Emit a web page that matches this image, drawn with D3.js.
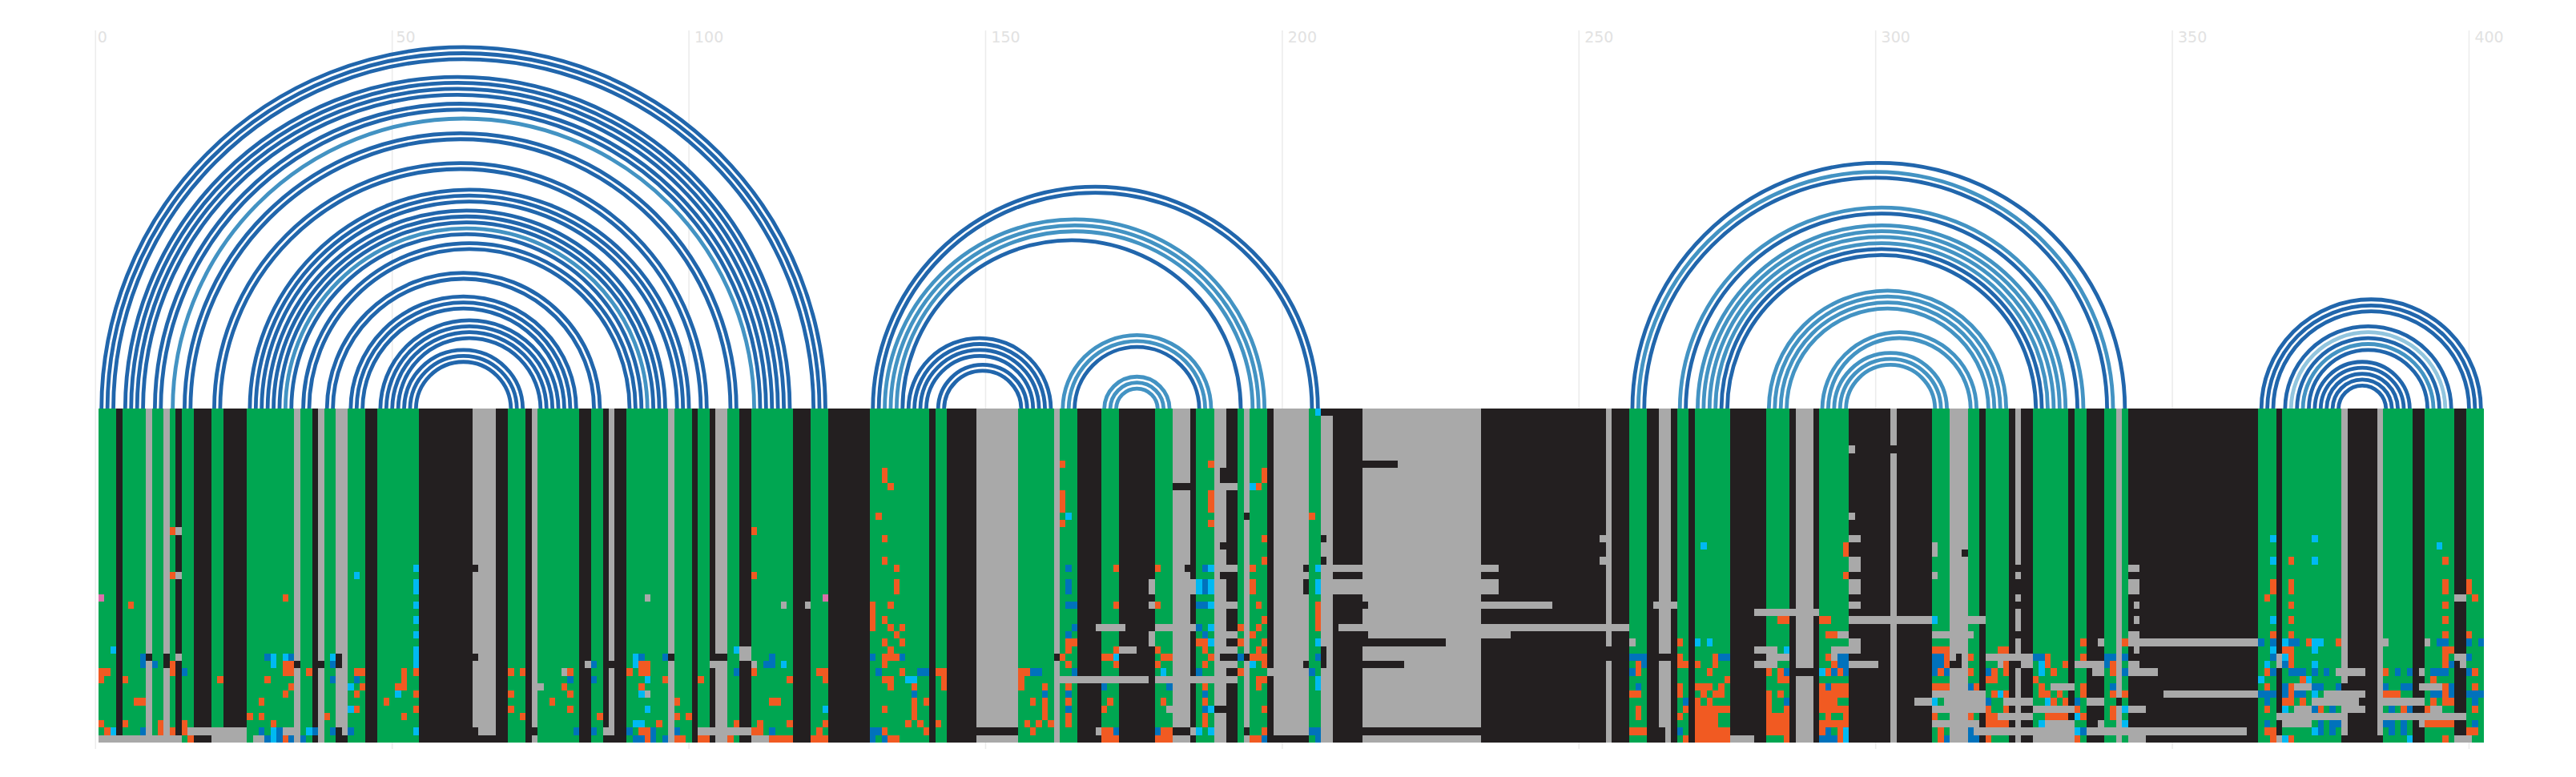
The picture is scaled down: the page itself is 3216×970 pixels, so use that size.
<!DOCTYPE html>
<html>
<head>
<meta charset="utf-8">
<style>html,body{margin:0;padding:0;background:#fff}svg{display:block}</style>
<script src="https://cdn.jsdelivr.net/npm/d3@7"></script>
</head>
<body>
<div id="chart"></div>
<script>
// tick labels of the alignment position axis
const tickValues = [0,50,100,150,200,250,300,350,400];

// consensus column runs: [last column of run, colour code]
const columnRuns = [[3,"G"],[4,"K"],[8,"G"],[9,"A"],[11,"G"],[12,"A"],[13,"G"],[14,"K"],[16,"G"],[19,"K"],[21,"G"],[25,"K"],[33,"G"],[34,"A"],[36,"G"],[37,"K"],[38,"A"],[40,"G"],[42,"A"],[45,"G"],[47,"K"],[54,"G"],[63,"K"],[67,"A"],[69,"K"],[72,"G"],[73,"K"],[74,"A"],[81,"G"],[83,"K"],[85,"G"],[86,"K"],[87,"A"],[89,"K"],[96,"G"],[97,"A"],[100,"G"],[101,"K"],[103,"G"],[104,"K"],[106,"A"],[108,"G"],[110,"K"],[117,"G"],[120,"K"],[123,"G"],[130,"K"],
[140,"G"],[141,"K"],[143,"G"],[148,"K"],[155,"A"],[161,"G"],[162,"A"],[165,"G"],[169,"K"],[172,"G"],[178,"K"],[181,"G"],[184,"A"],[185,"K"],[188,"G"],[190,"A"],[192,"K"],[193,"G"],[194,"A"],[197,"G"],[198,"K"],[204,"A"],[206,"G"],[208,"A"],[213,"K"],[233,"A"],[254,"K"],[255,"A"],[258,"K"],
[261,"G"],[263,"K"],[265,"A"],[266,"K"],[268,"G"],[269,"K"],[275,"G"],[281,"K"],[285,"G"],[286,"K"],[289,"A"],[290,"K"],[295,"G"],[302,"K"],[303,"A"],[309,"K"],[312,"G"],[315,"A"],[317,"G"],[318,"K"],[322,"G"],[323,"K"],[324,"A"],[326,"K"],[332,"G"],[333,"K"],[335,"G"],[338,"K"],[340,"G"],[341,"A"],[342,"G"],[364,"K"],[367,"G"],[368,"K"],[378,"G"],[379,"A"],[384,"K"],[385,"A"],[390,"G"],[392,"K"],[397,"G"],[399,"K"],[402,"G"]];

// per-sequence departures from the consensus: "column[-column]code"
const rowEdits = [
"206C 207-208K","","","","",
"296A 303K","",
"163O 188O 214-219K",
"133O 190K 197O",
"133O 190K 197O",
"134O 182-184K 189-192A 195C 196O",
"163O 188O","163O 188O","163O 188O",
"132O 164C 194K 205O 296A",
"163O 188O",
"13O 14A 111O",
"133O 197O 207K 254A 296-297A 367C 374C",
"190K 271C 295O 310A 395C",
"295O 310A 315K",
"133O 197O 207K 254A 296-297A 367C 370O 374C 396O",
"54C 64K 135O 164B 172O 179O 184K 187B 188C 189-192A 195O 204K 206C 207-236A 296-297A 324K 343-344A",
"13O 14A 44C 111O 190-192K 295O 310A",
"54C 135O 164B 178A 185A 186C 187B 188C 195O 204K 206C 207-236A 296-297A 324K 343-344A 367O 370O 396O 400O",
"54C 135O 164B 178A 185A 186C 187B 188C 195O 204K 206C 207-236A 296-297A 324K 343-344A 367O 370O 396O 400O",
"1P 32O 93A 123P 366O 398-399A 401O",
"6O 54C 116A 120A 131O 134O 164-165B 172O 178A 179O 186-187B 188C 189-192A 196O 206O 214K 234-245A 263-266A 296-297A 324K 344A 370O 396O",
"131O 206O 280-290A",
"54C 131O 133O 197O 206O 284-285O 291-292O 296-309A 310C 316-318A 344A 367C 370O 396O",
"131O 134O 136O 165B 169-173A 179-185A 186B 188C 193O 196O 206O 210-258A",
"54C 135O 164B 178A 187B 189-192A 195O 214K 234-238A 292-293O 294-295A 310-316A 324K 343-344A 367O 370O 396O 400O",
"133O 136O 164-165O 178A 186-187O 188C 193O 197O 206C 214-227K 259A 267O 270C 272C 296-297A 335O 338A 342O 343-364A 365B 367B 369C 370-371B 373O 374-375C 378O 386A 393A 395-396B 400B 402B",
"3C 54C 108C 109-110A 134O 164O 172O 173-175A 179O 187O 189-192A 196O 207K 255K 280-283A 285C 293-297A 310-312O 321-322O 344A 367C 369-370O 374C 396-397O",
"8B 9K 12K 14A 29B 30C 32C 33B 40C 41K 54C 64K 91C 92B 96B 97K 104-106K 109-110A 114B 131B 133-135O 136B 162K 163O 170-171O 172C 180-181O 188O 190-192K 193B 194K 195-197O 206B 207K 255K 259-261B 264-265K 267O 273O 274-275B 282-285A 292O 293A 294-295B 310-311B 312O 314K 316O 319-326A 327-328B 329O 335O 339-340B 342B 367B 368A 369C 370O 396O 398-399A 400B",
"8B 10B 12K 13O 30C 32-33O 34K 37-38K 40B 41K 54C 83A 84B 87K 91C 92-93O 104A 111A 113-114B 116C 133O 164O 172O 179O 187O 189-192A 195C 197O 204K 207K 214-220K 260O 261B 267-268O 270O 273O 280-283A 293O 294-295B 296-300A 310-311B 312O 313-314K 321A 322O 324K 325-326A 328C 329O 332O 334-338A 339B 340O 343-344A 366C 368A 369B 370O 374C 396O 397B 399A",
"1-2O 13O 15B 32-33O 36O 44-45O 52O 54O 70O 72O 79A 80O 90O 92-93O 108B 111O 122-123O 132B 136O 139-140B 142-143O 156-157O 158-159B 165B 180C 186B 193O 198A 205B 259B 260O 272O 282O 284O 285B 287-289K 291C 292O 293B 294O 295B 310B 311O 312B 316O 319B 320O 322O 328C 330O 337-338A 340O 342B 343-347A 366O 367B 370-372B 374B 376B 378-382A 386O 388B 390B 392A 394-396B 400B 401O",
"1O 5O 21O 29O 40B 44B 52O 80B 84B 93C 96O 102O 117O 123O 133-134O 137-138C 143O 156O 162-177A 179-192A 196-197O 206C 275O 284-285O 319-320O 327O 365C 372O 373C 394O",
"33O 43C 45O 51-52O 74-75A 79O 92O 134O 138O 143O 156O 160O 164O 170B 181B 187O 196O 206C 260B 267O 270-272O 274O 291O 292B 293-295O 310-312O 316B 317O 328O 330-333A 335O 340B 366O 369B 370O 371-373A 374-375B 378B 379K 386B 389-390B 392-395A 396O 397B 401O",
"32O 44O 51C 54O 70O 80O 92C 93A 138B 160B 164B 187B 259-260O 267O 271O 273-274O 282O 284O 291-295O 310-318A 320O 321C 322O 328-329O 331O 335O 340O 342O 349-364A 365-367B 369B 370O 371-372B 374C 376-382A 386-388O 394-395B 396O 397B 400-402B",
"7-8O 28O 49O 77O 98O 114-115O 138O 140O 158O 160O 164O 171O 180O 187O 268B 270O 272O 282O 285B 291-293O 307-309A 310C 312-318A 319B 322-326A 329C 330O 332O 334B 336-338A 341K 366B 369-370O 372O 374-381A 386-392A 394O 396-397O 401B",
"43C 44O 54O 70O 80O 93C 123C 133O 138O 160O 164B 170O 181A 187B 188C 189-190K 197O 260O 268O 270-275O 282O 285O 291-295O 310-318A 319O 322O 327-333A 334O 340O 342C 343-345A 366O 369C 371-373A 374B 375O 377B 379-382A 387B 389O 390B 393O 394-395A 401O",
"26O 28O 39O 52O 72O 85O 98O 100O 138O 160O 164O 187O 260O 267O 270-273O 282-285O 292O 295O 310O 316O 319-320O 321-326A 329-332O 334C 335O 340O 368-379A 385-399A",
"1O 5O 11O 15O 30O 91-92C 95O 108O 112O 117O 123O 137O 139O 142O 157O 159O 161O 164O 187O 270-273O 282-285O 291-295O 310-317A 319-322O 329-333A 338A 328C 342C 366B 369-373A 375B 377-378B 386-387B 389B 392A 393-397O 401B",
"2O 3C 8B 11O 13O 15O 16-25A 28B 30C 31B 32-33A 36C 37B 40B 41K 42A 43B 54C 64K 74K 81B 84B 86-87A 90B 92-93O 94B 98B 102-110A 111-112O 114B 122O 131-132B 133O 140O 149-155K 158O 169A 170-171O 172B 179B 180-181O 182-184K 185A 186C 188C 194K 197O 205-206B 214-233K 259-261O 264K 267B 270-275O 282-285O 291O 292B 294O 295C 311O 316B 317-333A 334C 335B 336-362A 366-367O 374C 375B 377B 387B 389B 400-401O",
"1-14A 16O 20-25A 27-28A 29B 30C 31B 32O 33B 35B 41-42K 64-67K 87K 91-92B 93O 94B 96B 98-99O 102-103O 107O 111-113A 114-117O 121-123O 131B 133B 134-135O 170-172O 179-181O 195-196O 197B 199-204K 206B 264K 268O 270-275O 276-279A 285O 291-293B 294O 295C 311O 312B 316-317B 319O 327-333A 334O 343-345A 367O 368A 369C 370O 379K 385K 390C 396O 398-400A"
];

// base pairs: [5' column, 3' column]
const strongPairs = [[1,123],[2,122],[3,121],[5,117],[6,116],[7,115],[8,114],[10,113],[11,112],[15,108],[16,107],[20,103],[21,102],[26,100],[27,99],[28,98],[29,96],[30,95],[31,94],[33,92],[35,91],[36,90],[39,85],[40,84],[43,81],[44,80],[45,79],[48,78],[49,77],[50,76],[51,75],[52,72],[53,71],[54,70],
[131,206],[132,205],[136,193],[137,161],[138,160],[139,159],[140,158],[142,157],[143,156],[165,186],
[259,342],[261,339],[268,334],[274,328],[275,327],
[365,402],[366,401],[367,400],[369,397],[371,395],[373,393],[374,390],[375,389],[376,388],[377,387],[378,386]];
const mediumPairs = [[13,111],[32,93],[133,197],[134,196],[135,195],[163,188],[164,187],[170,181],[171,180],[172,179],
[260,340],[267,335],[270,332],[271,331],[272,330],[273,329],[282,322],[283,321],[284,320],[285,319],[291,317],[292,316],[293,312],[294,311],[295,310],
[372,394]];
const weakPairs = [[370,396]];

const residueColours = {G:"#00a651",K:"#231f20",A:"#a9a9a9",O:"#f15a22",B:"#0072bc",C:"#00b9f2",P:"#da6fab"};
const arcColours = {strong:"#2166ac",medium:"#4393c3",weak:"#92c5de"};

const W = 3216, H = 970, mapTop = 510, mapBottom = 927;
const nCols = columnRuns[columnRuns.length-1][0];
const x = d3.scaleLinear().domain([0.5,nCols+0.5]).range([123,3101]);
const y = d3.scaleBand().domain(d3.range(rowEdits.length)).range([mapTop,mapBottom]);

const svg = d3.select("#chart").append("svg").attr("width",W).attr("height",H).attr("viewBox",[0,0,W,H]);
svg.append("rect").attr("width",W).attr("height",H).attr("fill","#fff");

// grid and labels
const grid = svg.append("g");
grid.selectAll("line").data(tickValues).join("line")
  .attr("x1",x).attr("x2",x).attr("y1",38).attr("y2",935)
  .attr("stroke","#ececec").attr("stroke-width",1.6);
grid.selectAll("text").data(tickValues).join("text")
  .attr("x",d=>x(d)+2.5+2.2*(String(d).length-1)).attr("y",52.5)
  .attr("font-family","'DejaVu Sans'").attr("font-size",19).attr("fill","#e2e2e2")
  .text(d=>d);

// arcs
const arcs = [
  ...strongPairs.map(p=>({p,c:arcColours.strong})),
  ...mediumPairs.map(p=>({p,c:arcColours.medium})),
  ...weakPairs.map(p=>({p,c:arcColours.weak}))
];
svg.append("g").attr("fill","none").attr("stroke-width",4.8)
  .selectAll("path").data(arcs).join("path")
  .attr("stroke",d=>d.c)
  .attr("d",d=>{
    const a=x(d.p[0]), b=x(d.p[1]), g=d3.path();
    g.arc((a+b)/2, mapTop+1, (b-a)/2, Math.PI, 2*Math.PI);
    return g.toString();
  });

// heat map cells: consensus plus edits, merged into runs per row
const base = [];
let prev = 0;
columnRuns.forEach(([end,code])=>{ for(let c=prev+1;c<=end;c++) base[c]=code; prev=end; });
const runs = [];
rowEdits.forEach((edit,r)=>{
  const row = base.slice();
  (edit.match(/\d+(?:-\d+)?[A-Z]/g)||[]).forEach(tok=>{
    const m = tok.match(/(\d+)(?:-(\d+))?([A-Z])/);
    for(let c=+m[1];c<=+(m[2]||m[1]);c++) row[c]=m[3];
  });
  let s=1;
  for(let c=2;c<=nCols+1;c++){
    if(row[c]!==row[s]){ runs.push({r,from:s,to:c-1,code:row[s]}); s=c; }
  }
});
svg.append("g").attr("shape-rendering","crispEdges")
  .selectAll("rect").data(runs).join("rect")
  .attr("x",d=>x(d.from-0.5))
  .attr("width",d=>x(d.to+0.5)-x(d.from-0.5))
  .attr("y",d=>y(d.r))
  .attr("height",y.bandwidth())
  .attr("fill",d=>residueColours[d.code]);
</script>
</body>
</html>
